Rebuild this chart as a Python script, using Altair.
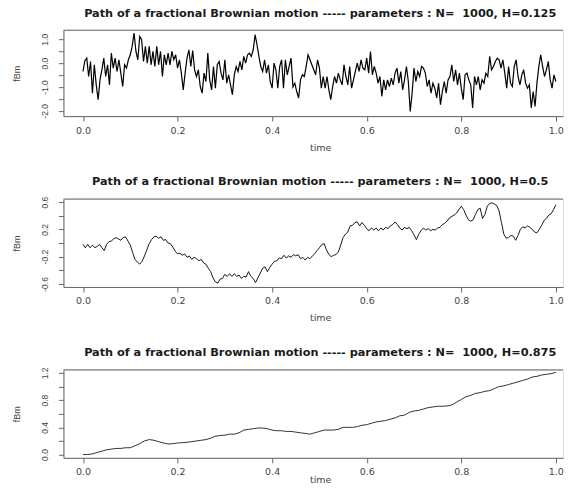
import altair as alt
import pandas as pd

# ---- values (N = 1000 paths, resampled) ----
fbm_h0125 = [
    -0.35, 0.10, 0.21, -0.56, 0.07, -1.26, -0.07, -0.91, -1.53, -0.70,
    -0.28, 0.21, -0.56, -0.07, -0.91, 0.42, -0.21, 0.21, -0.35, 0.14,
    -0.42, -0.98, -0.07, -0.21, 0.14, 0.35, 0.70, 1.26, 0.49, 0.14,
    1.12, 0.98, 0.07, 0.70, 0.00, 0.70, -0.07, 0.49, -0.14, 0.70,
    -0.07, 0.49, -0.56, 0.35, -0.07, 0.42, -0.07, 0.49, 0.14, 0.35,
    -0.21, 0.14, -0.42, -1.12, -0.42, 0.21, 0.56, -0.14, 0.53, -0.28,
    -0.56, -0.28, -0.98, -1.26, -0.42, -0.77, 0.42, -0.70, -1.12, -0.14,
    -1.05, -0.07, 0.07, -0.42, -0.70, 0.14, -0.84, -0.49, -0.91, -1.32,
    -0.49, -0.14, -0.35, 0.07, -0.28, 0.28, 0.00, 0.35, 0.42, 0.28,
    0.56, 1.19, 0.77, 0.28, -0.14, -0.35, 0.14, -0.42, -0.07, -0.77,
    -1.05, 0.00, -0.28, -1.05, -0.14, 0.14, -1.05, 0.14, -0.49, -0.14,
    0.21, -1.00, -0.84, -1.19, -1.46, -0.70, -0.49, -0.56, -0.14, 0.35,
    0.14, -0.07, -0.28, -0.49, 0.14, -0.21, -1.05, -0.56, -1.05, -0.56,
    -1.12, -1.53, -0.98, -0.56, -0.84, -0.42, -0.70, -0.91, -0.07, -0.56,
    -0.91, -0.14, -1.05, -0.70, -0.35, 0.00, -0.35, 0.14, -0.21, -0.28,
    0.21, -0.42, 0.49, -0.49, -0.14, -0.42, -0.84, -0.56, -1.39, -0.70,
    -1.12, -0.70, -0.98, -0.63, -0.91, -0.42, -0.21, -0.84, -0.35, -1.12,
    -0.70, -0.14, -0.77, -2.02, -1.26, -0.21, -0.77, -0.35, -0.56, -0.14,
    -0.21, -0.42, -0.98, -0.70, -1.26, -0.84, -1.05, -1.46, -0.84, -1.74,
    -1.19, -0.77, -1.26, -0.70, -0.56, -0.07, -0.77, -0.28, -0.91, -0.42,
    -1.05, -1.53, -0.49, -0.42, -0.70, -0.91, -1.88, -0.56, -0.91, -0.56,
    -1.12, -0.70, -0.84, -0.42, -0.56, 0.28, -0.28, -0.14, 0.07, 0.21,
    0.14, -0.21, 0.14, -0.42, -1.05, -0.14, -0.84, -0.98, -0.14, 0.14,
    -0.56, -0.91, -0.49, -0.28, -0.84, -1.05, -0.91, -1.88, -1.19, -1.81,
    -0.84, -0.14, 0.35, -0.14, -0.56, -0.28, 0.07, -0.70, -1.05, -0.49,
    -0.77,
]

fbm_h05 = [
    -0.02, -0.07, -0.02, -0.07, -0.03, -0.07, -0.05, -0.02, -0.07, -0.11,
    -0.02, 0.02, 0.03, 0.06, 0.08, 0.06, 0.04, 0.08, 0.09, 0.03,
    -0.03, -0.14, -0.24, -0.28, -0.31, -0.27, -0.19, -0.10, -0.01, 0.05,
    0.09, 0.10, 0.07, 0.09, 0.04, 0.05, 0.00, -0.01, -0.06, -0.12,
    -0.16, -0.15, -0.18, -0.16, -0.21, -0.19, -0.24, -0.21, -0.23, -0.26,
    -0.24, -0.29, -0.31, -0.37, -0.42, -0.51, -0.57, -0.59, -0.53, -0.52,
    -0.46, -0.49, -0.45, -0.49, -0.45, -0.49, -0.47, -0.52, -0.49, -0.50,
    -0.42, -0.49, -0.52, -0.58, -0.51, -0.44, -0.37, -0.35, -0.42, -0.36,
    -0.31, -0.27, -0.26, -0.22, -0.23, -0.18, -0.22, -0.19, -0.21, -0.17,
    -0.19, -0.17, -0.23, -0.21, -0.25, -0.21, -0.23, -0.19, -0.16, -0.11,
    -0.07, -0.02, -0.01, -0.10, -0.17, -0.20, -0.18, -0.17, -0.13, -0.03,
    0.08, 0.13, 0.16, 0.25, 0.26, 0.30, 0.31, 0.25, 0.30, 0.26,
    0.21, 0.18, 0.22, 0.19, 0.22, 0.18, 0.22, 0.19, 0.23, 0.21,
    0.25, 0.27, 0.31, 0.27, 0.22, 0.19, 0.23, 0.21, 0.23, 0.18,
    0.12, 0.05, 0.13, 0.18, 0.22, 0.19, 0.21, 0.18, 0.20, 0.19,
    0.22, 0.23, 0.27, 0.29, 0.32, 0.37, 0.39, 0.41, 0.44, 0.49,
    0.54, 0.49, 0.41, 0.34, 0.32, 0.34, 0.42, 0.49, 0.51, 0.36,
    0.42, 0.54, 0.58, 0.59, 0.57, 0.55, 0.47, 0.30, 0.13, 0.07,
    0.08, 0.11, 0.10, 0.04, 0.11, 0.20, 0.24, 0.22, 0.25, 0.23,
    0.20, 0.16, 0.15, 0.20, 0.26, 0.33, 0.36, 0.41, 0.43, 0.49,
    0.56,
]

fbm_h0875 = [
    0.00, 0.00, 0.01, 0.03, 0.05, 0.07, 0.08, 0.09, 0.09, 0.10,
    0.10, 0.13, 0.16, 0.20, 0.22, 0.21, 0.19, 0.17, 0.155, 0.16,
    0.17, 0.175, 0.18, 0.19, 0.20, 0.21, 0.22, 0.24, 0.27, 0.28,
    0.285, 0.30, 0.30, 0.32, 0.36, 0.37, 0.38, 0.39, 0.39, 0.38,
    0.36, 0.35, 0.35, 0.34, 0.34, 0.33, 0.32, 0.31, 0.30, 0.32,
    0.34, 0.36, 0.36, 0.36, 0.37, 0.40, 0.40, 0.40, 0.41, 0.43,
    0.44, 0.46, 0.48, 0.49, 0.50, 0.52, 0.54, 0.57, 0.58, 0.62,
    0.64, 0.65, 0.67, 0.69, 0.70, 0.71, 0.71, 0.715, 0.73, 0.77,
    0.81, 0.85, 0.87, 0.90, 0.91, 0.93, 0.94, 0.97, 1.00, 1.01,
    1.03, 1.05, 1.07, 1.09, 1.11, 1.14, 1.15, 1.17, 1.18, 1.19,
    1.21,
]

hurst = ["0.125", "0.5", "0.875"]
x_ticks = [0.0, 0.2, 0.4, 0.6, 0.8, 1.0]
y_ticks_1 = [-2.0, -1.5, -1.0, -0.5, 0.0, 0.5, 1.0]
y_ticks_2 = [-0.6, -0.4, -0.2, 0.0, 0.2, 0.4, 0.6]
y_ticks_3 = [0.0, 0.2, 0.4, 0.6, 0.8, 1.0, 1.2]

W = 500
X_DOMAIN = [-0.0413, 1.0151]
GRAY = "#666666"
LABEL = "#444444"

def fmt_expr(cond):
    return (f"({cond}) ? ((datum.value < 0 ? '-' : '') + format(abs(datum.value), '.1f')) : ''")

def panel(values, h, ydomain, yticks, cond, height, title_offset, time_y, sw):
    n = len(values)
    df = pd.DataFrame({"time": [i / (n - 1) for i in range(n)], "fBm": values})
    line = alt.Chart(df).mark_line(color="black", strokeWidth=sw).encode(
        x=alt.X("time:Q",
                scale=alt.Scale(domain=X_DOMAIN, nice=False, zero=False),
                axis=alt.Axis(values=x_ticks, format=".1f", grid=False,
                              domainColor=GRAY, domainWidth=1,
                              tickColor=GRAY, tickSize=5, tickWidth=1,
                              labelFont="DejaVu Sans", labelFontSize=9.5,
                              labelColor=LABEL, labelPadding=4,
                              labelFlush=False, labelOverlap=False,
                              title="time", titleFont="DejaVu Sans",
                              titleFontSize=9.5, titleFontWeight="normal",
                              titleColor=LABEL, titleX=257, titleY=time_y,
                              titleAlign="center", titleBaseline="middle")),
        y=alt.Y("fBm:Q",
                scale=alt.Scale(domain=ydomain, nice=False, zero=False),
                axis=alt.Axis(values=yticks, labelExpr=fmt_expr(cond), grid=False,
                              domainColor=GRAY, domainWidth=1,
                              tickColor=GRAY, tickSize=5, tickWidth=1,
                              labelFont="Liberation Sans", labelFontSize=8.5,
                              labelColor=LABEL, labelAngle=270,
                              labelAlign="center", labelBaseline="bottom",
                              labelPadding=9, labelFlush=False, labelOverlap=False,
                              title="fBm", titleFont="Liberation Sans",
                              titleFontSize=9, titleFontWeight="normal",
                              titleColor=LABEL, titleAngle=270,
                              titleX=-47, titleY=height / 2,
                              titleAlign="center", titleBaseline="middle")),
    )
    top = alt.Chart(pd.DataFrame({"k": [0]})).mark_rule(color=GRAY, strokeWidth=1).encode(
        x=alt.value(0), x2=alt.value(W), y=alt.value(0)
    )
    title = alt.TitleParams(
        text=f"Path of a fractional Brownian motion ----- parameters : N=\u00a0 1000, H={h}",
        font="DejaVu Sans", fontSize=11.3, fontWeight="bold", color="#1a1a1a",
        anchor="middle", dx=7, offset=title_offset, baseline="alphabetic",
    )
    return alt.layer(line, top).properties(width=W, height=height, title=title)

p1 = panel(fbm_h0125, hurst[0], [-2.22, 1.38], y_ticks_1,
           "abs(datum.value % 1) < 1e-9", 86, 1, 31, 1.2)
p2 = panel(fbm_h05, hurst[1], [-0.645, 0.645], y_ticks_2,
           "abs(round(datum.value * 10)) % 4 == 2", 88, 0, 31, 0.9)
p3 = panel(fbm_h0875, hurst[2], [-0.048, 1.245], y_ticks_3,
           "abs(round(datum.value * 10)) % 4 == 0", 88, 0, 22, 0.8)

chart = alt.vconcat(p1, p2, p3, spacing=83, bounds="flush").properties(
    padding={"left": 3.5, "top": -1, "right": 0, "bottom": 0}
).configure_view(strokeWidth=0).configure(background="white")

chart.save("out.html", embed_options={"renderer": "svg", "actions": False})
